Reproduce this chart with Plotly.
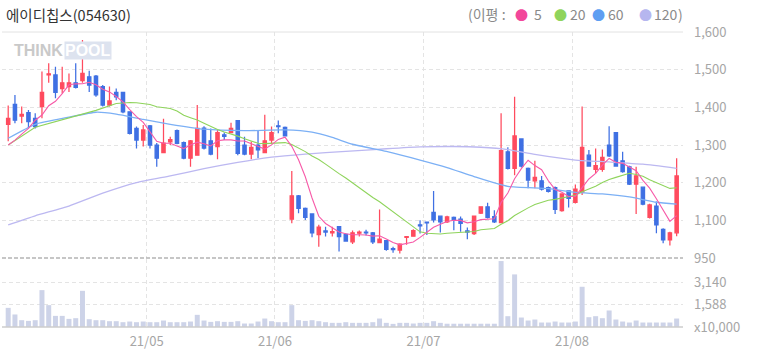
import pandas as pd
import plotly.graph_objects as go

# ---------------- data ----------------
title_text = "에이디칩스(054630)"
holidays = ["2021-05-05", "2021-05-19", "2021-08-16"]
dates = [d for d in pd.bdate_range("2021-04-02", "2021-08-24")
         if d.strftime("%Y-%m-%d") not in holidays]

opens = [1355, 1408, 1377, 1386, 1371, 1402, 1486, 1486, 1450, 1455,
         1465, 1471, 1481, 1483, 1455, 1406, 1440, 1440, 1388, 1344,
         1313, 1351, 1300, 1280, 1308, 1338, 1306, 1265, 1273, 1345,
         1311, 1296, 1327, 1333, 1365, 1300, 1276, 1300, 1280, 1313,
         1351, 1347, 1103, 1165, 1132, 1117, 1062, 1072, 1067, 1083,
         1063, 1043, 1066, 1069, 1067, 1041, 1046, 1025, 1021, 1055,
         1058, 1088, 1095, 1121, 1111, 1096, 1108, 1103, 1072, 1065,
         1119, 1136, 1110, 1094, 1282, 1238, 1316, 1238, 1205, 1205,
         1187, 1187, 1126, 1178, 1148, 1175, 1273, 1235, 1235, 1300,
         1333, 1258, 1242, 1196, 1188, 1108, 1138, 1076, 1048, 1067]
highs = [1405, 1433, 1402, 1393, 1384, 1495, 1517, 1508, 1508, 1490,
         1517, 1579, 1497, 1486, 1459, 1455, 1450, 1441, 1388, 1349,
         1353, 1353, 1305, 1370, 1322, 1341, 1309, 1313, 1406, 1350,
         1344, 1340, 1333, 1359, 1366, 1322, 1309, 1337, 1380, 1349,
         1365, 1349, 1231, 1167, 1134, 1119, 1088, 1083, 1083, 1083,
         1066, 1073, 1073, 1075, 1069, 1129, 1047, 1030, 1039, 1058,
         1076, 1100, 1097, 1178, 1113, 1112, 1110, 1110, 1081, 1113,
         1137, 1147, 1127, 1384, 1294, 1428, 1318, 1240, 1258, 1218,
         1190, 1190, 1172, 1180, 1195, 1402, 1287, 1291, 1288, 1350,
         1333, 1282, 1245, 1242, 1190, 1144, 1150, 1079, 1070, 1265]
lows = [1310, 1358, 1358, 1344, 1344, 1371, 1465, 1424, 1437, 1441,
        1450, 1465, 1441, 1428, 1402, 1402, 1419, 1384, 1328, 1291,
        1296, 1291, 1242, 1278, 1300, 1302, 1262, 1242, 1273, 1288,
        1273, 1262, 1313, 1331, 1273, 1273, 1262, 1265, 1280, 1304,
        1331, 1324, 1092, 1119, 1101, 1055, 1030, 1057, 1057, 1017,
        1043, 1037, 1057, 1060, 1037, 1041, 1019, 1014, 1012, 1035,
        1057, 1065, 1061, 1094, 1068, 1093, 1074, 1070, 1050, 1061,
        1117, 1105, 1093, 1092, 1235, 1220, 1240, 1185, 1185, 1179,
        1174, 1117, 1123, 1134, 1145, 1167, 1242, 1225, 1229, 1268,
        1242, 1226, 1194, 1117, 1140, 1105, 1066, 1039, 1033, 1058]
closes = [1371, 1366, 1381, 1362, 1349, 1440, 1489, 1440, 1465, 1465,
          1453, 1490, 1459, 1433, 1406, 1417, 1428, 1388, 1331, 1313,
          1340, 1300, 1265, 1305, 1314, 1304, 1265, 1311, 1344, 1292,
          1276, 1333, 1323, 1344, 1278, 1276, 1294, 1287, 1311, 1333,
          1349, 1324, 1165, 1132, 1108, 1067, 1082, 1069, 1070, 1057,
          1045, 1067, 1069, 1067, 1043, 1050, 1023, 1022, 1037, 1057,
          1073, 1085, 1093, 1101, 1096, 1109, 1101, 1092, 1069, 1111,
          1136, 1108, 1096, 1285, 1238, 1324, 1244, 1207, 1214, 1183,
          1177, 1129, 1170, 1158, 1183, 1294, 1244, 1245, 1267, 1271,
          1244, 1229, 1196, 1218, 1143, 1141, 1088, 1048, 1067, 1218]
volumes = [1347, 881, 479, 430, 479, 2594, 1537, 783, 783, 571,
           620, 2545, 550, 479, 479, 409, 409, 338, 385, 338,
           385, 338, 338, 456, 338, 338, 338, 385, 855, 456,
           360, 409, 360, 360, 409, 245, 245, 385, 596, 409,
           338, 338, 1537, 479, 430, 479, 409, 338, 291, 291,
           338, 291, 291, 291, 338, 596, 291, 220, 291, 291,
           245, 291, 291, 409, 291, 230, 230, 230, 230, 230,
           230, 230, 230, 4639, 761, 3700, 667, 456, 526, 315,
           315, 385, 315, 315, 385, 2829, 690, 761, 620, 1161,
           526, 385, 315, 456, 315, 315, 315, 315, 315, 596]

# moving averages whose history starts before the visible window
ma5_lead = [1300, 1313, 1329, 1344]
ma20_lead_idx = [0, 4, 9, 13, 16, 18]
ma20_lead = [1300, 1347, 1372, 1392, 1410, 1413]
ma60_idx = [0, 4, 9, 13, 16, 20, 24, 29, 35, 41, 45, 48, 51, 56, 61, 65, 69, 74, 80, 84, 88, 92, 96, 99]
ma60_vals = [1318, 1355, 1374, 1387, 1382, 1368, 1355, 1342, 1338, 1340, 1334, 1320, 1302, 1283,
             1260, 1240, 1216, 1190, 1184, 1174, 1170, 1162, 1148, 1143]
ma120_idx = [0, 4, 9, 14, 19, 24, 29, 34, 39, 44, 50, 56, 61, 66, 70, 74, 78, 84, 89, 94, 99]
ma120_vals = [1088, 1112, 1138, 1172, 1200, 1218, 1237, 1254, 1268, 1276, 1283, 1290, 1295, 1296,
              1294, 1288, 1275, 1260, 1255, 1249, 1238]

price_ticks = [1000, 1100, 1200, 1300, 1400, 1500, 1600]
price_tick_text = ["950", "1,100", "1,200", "1,300", "1,400", "1,500", "1,600"]
volume_ticks = [0, 1588, 3140]
volume_tick_text = ["x10,000", "1,588", "3,140"]
legend_items = [("5", "#f2479b"), ("20", "#8fd45c"), ("60", "#5e9ef2"), ("120", "#b6b6ef")]

# ---------------- derived ----------------
idx = list(range(len(dates)))
close_s = pd.Series(closes, dtype=float)
ma5 = ma5_lead + close_s.rolling(5).mean().iloc[4:].tolist()
ma20_x = ma20_lead_idx + idx[19:]
ma20_y = ma20_lead + close_s.rolling(20).mean().iloc[19:].tolist()

month_first = [i for i in idx[1:] if dates[i].month != dates[i - 1].month]
month_tickvals = [i - 0.5 for i in month_first]
month_ticktext = [dates[i].strftime("%y/%m") for i in month_first]

RED = "#ff4b5e"
BLUE = "#3f70e3"
GRID = "#e4e4e4"
FONT = "Noto Sans CJK KR"

fig = go.Figure()
fig.add_trace(go.Bar(x=idx, y=volumes, marker_color="#cdd3e8", marker_line_width=0,
                     width=0.74, xaxis="x2", yaxis="y2", hoverinfo="skip"))
fig.add_trace(go.Candlestick(
    x=idx, open=opens, high=highs, low=lows, close=closes,
    increasing=dict(line=dict(color=RED, width=1.25), fillcolor=RED),
    decreasing=dict(line=dict(color=BLUE, width=1.25), fillcolor=BLUE),
    whiskerwidth=0, xaxis="x", yaxis="y"))
fig.add_trace(go.Scatter(x=ma120_idx, y=ma120_vals, mode="lines",
                         line=dict(color="#bcb8f1", width=1.3, shape="spline", smoothing=0.5)))
fig.add_trace(go.Scatter(x=ma60_idx, y=ma60_vals, mode="lines",
                         line=dict(color="#7cb0f5", width=1.3, shape="spline", smoothing=0.5)))
fig.add_trace(go.Scatter(x=ma20_x, y=ma20_y, mode="lines",
                         line=dict(color="#8fd45c", width=1.1)))
fig.add_trace(go.Scatter(x=idx, y=ma5, mode="lines",
                         line=dict(color="#f75aa8", width=1.1)))

W, H = 758, 355
ml, mr, mt, mb = 2, 75, 32, 28
pw, ph = W - ml - mr, H - mt - mb


def px_x(p):
    return (p - ml) / pw


def px_y(p):
    return (H - mb - p) / ph


price_bottom = px_y(258)
vol_top = px_y(259)

annotations = [
    dict(text=title_text, x=px_x(4), y=px_y(14), xanchor="left", yanchor="middle",
         font=dict(size=14.5, color="#333333", family=FONT)),
    dict(text="(이평 :", x=px_x(466), y=px_y(14), xanchor="left", yanchor="middle",
         font=dict(size=14, color="#8a8a8a", family=FONT)),
    dict(text=")", x=px_x(676), y=px_y(14), xanchor="left", yanchor="middle",
         font=dict(size=14, color="#8a8a8a", family=FONT)),
    dict(text="<b>THINK</b>", x=px_x(12), y=px_y(50), xanchor="left", yanchor="middle",
         font=dict(size=16, color="#c9c9c9", family="Liberation Sans")),
    dict(text="<b>POOL</b>", x=px_x(64), y=px_y(50), xanchor="left", yanchor="middle",
         bgcolor="#dde3ef", borderpad=0,
         font=dict(size=16, color="#ffffff", family="Liberation Sans")),
]
dot_px = [521, 560, 598, 645]
lab_px = [532, 568, 606, 652]
for (lab, col), dp, lp in zip(legend_items, dot_px, lab_px):
    annotations.append(dict(text="●", x=px_x(dp), y=px_y(14), xanchor="center", yanchor="middle",
                            font=dict(size=13, color=col, family=FONT)))
    annotations.append(dict(text=lab, x=px_x(lp), y=px_y(14), xanchor="left", yanchor="middle",
                            font=dict(size=14, color="#8a8a8a", family=FONT)))
for a in annotations:
    a.update(xref="paper", yref="paper", showarrow=False)

shapes = [
    dict(type="line", xref="x domain", yref="y domain", x0=0, x1=1, y0=1, y1=1,
         line=dict(color="#e2e2e2", width=1)),
    dict(type="line", xref="x domain", yref="y domain", x0=0, x1=1, y0=0, y1=0,
         line=dict(color="#b4b4b4", width=1.5, dash="4px,2px")),
    dict(type="line", xref="x2 domain", yref="y2 domain", x0=0, x1=1, y0=0, y1=0,
         line=dict(color="#cccccc", width=1.5)),
]

tick_font = dict(size=13, color="#a6a6a6", family=FONT)
xcommon = dict(range=[-0.918, 99.94], tickmode="array", tickvals=month_tickvals,
               showgrid=True, gridcolor=GRID, griddash="4px,3px", zeroline=False,
               showline=False, ticks="", fixedrange=True)

fig.update_layout(
    width=W, height=H, margin=dict(l=ml, r=mr, t=mt, b=mb),
    paper_bgcolor="white", plot_bgcolor="white", showlegend=False,
    xaxis=dict(**xcommon, anchor="y", domain=[0, 1], showticklabels=False,
               rangeslider=dict(visible=False)),
    xaxis2=dict(**xcommon, anchor="y2", domain=[0, 1], matches="x", ticktext=month_ticktext,
                tickfont=tick_font, ticklabelstandoff=5),
    yaxis=dict(domain=[price_bottom, 1], range=[price_ticks[0], price_ticks[-1]], side="right",
               anchor="x", tickmode="array", tickvals=price_ticks, ticktext=price_tick_text,
               showgrid=True, gridcolor=GRID, griddash="4px,3px", zeroline=False,
               tickfont=tick_font, ticklabelstandoff=10, fixedrange=True),
    yaxis2=dict(domain=[0, vol_top], range=[0, 4783], side="right", anchor="x2",
                tickmode="array", tickvals=volume_ticks, ticktext=volume_tick_text,
                showgrid=True, gridcolor=GRID, griddash="4px,3px", zeroline=False,
                tickfont=tick_font, ticklabelstandoff=10, fixedrange=True),
    annotations=annotations, shapes=shapes,
)

fig.write_html("out.html")
